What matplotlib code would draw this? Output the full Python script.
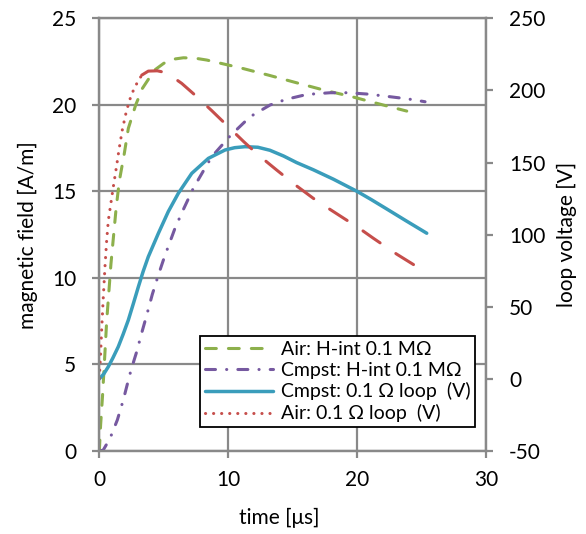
import matplotlib
matplotlib.use("Agg")
import matplotlib.pyplot as plt

plt.rcParams['font.family'] = ['Lato', 'DejaVu Sans']
plt.rcParams['lines.scale_dashes'] = False
plt.rcParams['axes.unicode_minus'] = False

# ---- data ----
t_air_h = [0, 0.1, 0.25, 0.4, 0.57, 0.75, 0.9, 1.1, 1.3, 1.55, 1.94, 2.25, 2.82, 3.34,
           4.27, 5.0, 5.66, 6.52, 7.4, 8.33, 10.0, 10.78, 13.11, 15.18, 17.64, 19.45,
           22.03, 23.85]
h_air = [0, 1.5, 3.2, 5.2, 7.5, 9.3, 10.8, 12.4, 14.0, 15.6, 17.2, 18.64, 19.99, 20.95,
         22.0, 22.4, 22.63, 22.72, 22.7, 22.59, 22.3, 22.17, 21.72, 21.3, 20.81, 20.5,
         19.99, 19.64]

t_cmp_h = [0, 0.3, 0.83, 1.4, 1.86, 2.12, 2.46, 2.9, 3.29, 3.68, 4.11, 4.58, 5.04, 5.87,
           6.44, 7.29, 8.07, 8.72, 10.14, 11.69, 13.24, 14.5, 16.09, 17.9, 19.3, 20.87,
           22.55, 23.97, 25.27]
h_cmp = [0, 0.05, 0.73, 1.8, 2.95, 3.71, 4.68, 5.74, 6.83, 7.86, 9.05, 10.17, 11.19, 12.87,
         13.83, 15.18, 16.18, 17.0, 18.2, 19.31, 19.99, 20.32, 20.6, 20.7, 20.7, 20.62,
         20.47, 20.34, 20.18]

t_cmp_v = [0, 0.35, 0.7, 1.05, 1.47, 1.85, 2.25, 2.65, 3.03, 3.4, 3.8, 4.58, 5.35, 6.13,
           7.17, 8.46, 9.75, 10.5, 11.3, 12.3, 13.24, 14.3, 15.3, 16.6, 18.15, 20.0,
           21.1, 22.3, 23.8, 25.4]
v_cmp = [0, 3.5, 8.5, 14.5, 22.3, 31, 40.8, 52.5, 63.9, 74.5, 84.7, 100.9, 116, 128.7,
         142.5, 152.9, 158.7, 160.3, 161, 160.6, 158.5, 154.5, 150, 145, 138.5, 130,
         124.3, 117.8, 109.6, 101]

t_air_v = [0, 0.1, 0.18, 0.31, 0.44, 0.57, 0.7, 0.9, 1.1, 1.35, 1.53, 1.79, 2.05, 2.33,
           2.72, 3.29, 3.8, 4.5, 5.23, 6.39, 7.42, 8.72, 10.14, 11.2, 12.34, 13.76,
           15.2, 16.6, 17.64, 19.2, 20.23, 21.26, 23.07, 25.14]
v_air = [0.4, 17.7, 34, 57, 78, 96, 110, 122, 134, 148.2, 159.2, 173, 183.6, 192.9,
         201.9, 210.6, 213.4, 213.6, 212.2, 204.9, 196.8, 186, 173.7, 164.5, 155.2, 144.8,
         134.5, 125.2, 119, 110, 104, 97.5, 86.5, 75]
split_t = 3.3  # dotted before, long dashes after

labels = ["Air: H-int 0.1 M\u03a9", "Cmpst: H-int 0.1 M\u03a9",
          "Cmpst: 0.1 \u03a9 loop  (V)", "Air: 0.1 \u03a9 loop  (V)"]
x_ticks = [0, 10, 20, 30]
y_ticks = [0, 5, 10, 15, 20, 25]
y2_ticks = [-50, 0, 50, 100, 150, 200, 250]

GREEN = "#8DB04C"
PURPLE = "#7659A0"
TEAL = "#3A9DBB"
RED = "#C64E4B"
GRID = "#898989"

fig = plt.figure(figsize=(5.86, 5.34), dpi=100)
ax = fig.add_axes([0.1695, 0.1554, 0.8294 - 0.1695, 0.9657 - 0.1554])
ax2 = ax.twinx()

ax.set_xlim(0, 30)
ax.set_ylim(0, 25)
ax2.set_ylim(-50, 250)
ax.set_xticks(x_ticks)
ax.set_yticks(y_ticks)
ax2.set_yticks(y2_ticks)
ax.grid(True, color=GRID, lw=1.6)
ax.set_axisbelow(True)

for a in (ax, ax2):
    for s in a.spines.values():
        s.set_color(GRID)
        s.set_linewidth(1.6)
    a.tick_params(colors=GRID, labelcolor="black", length=5, width=1.6,
                  labelsize=15, pad=11.5)
ax.tick_params(axis='x', pad=9)

lw = 2.2
l1, = ax.plot(t_air_h, h_air, color=GREEN, lw=lw, linestyle=(0, (7.8, 8.7)),
              dash_capstyle='round', label=labels[0])
l2, = ax.plot(t_cmp_h, h_cmp, color=PURPLE, lw=lw,
              linestyle=(0, (7.2, 8.0, 0.1, 8.0)),
              dash_capstyle='round', label=labels[1])
l3, = ax2.plot(t_cmp_v, v_cmp, color=TEAL, lw=2.5, solid_capstyle='round',
               solid_joinstyle='round', label=labels[2])

n1 = len([t for t in t_air_v if t <= split_t])
l4, = ax2.plot(t_air_v[:n1], v_air[:n1], color=RED, lw=lw, linestyle=(0, (0.1, 5.7)),
               dash_capstyle='round', label=labels[3])
ax2.plot(t_air_v[n1 - 1:], v_air[n1 - 1:], color=RED, lw=lw,
         linestyle=(0, (15, 13.7)), dash_capstyle='round')

ax.set_xlabel("time [\u03bcs]", fontsize=15, va='center')
ax.xaxis.set_label_coords(0.465, -0.155)
ax.set_ylabel("magnetic field [A/m]", fontsize=15, va='center')
ax.yaxis.set_label_coords(-0.184, 0.5)
ax2.set_ylabel("loop voltage [V]", fontsize=15, va='center')
ax2.yaxis.set_label_coords(1.209, 0.5)

leg = ax2.legend(handles=[l1, l2, l3, l4], loc='lower right',
                 bbox_to_anchor=(0.9716, 0.0548), fontsize=14, frameon=True,
                 fancybox=False, framealpha=1, edgecolor='black',
                 handlelength=3.5, borderpad=0.25, labelspacing=0.2,
                 handletextpad=0.4, borderaxespad=0)
leg.get_frame().set_linewidth(1.3)

fig.savefig("out.png", dpi=100)
